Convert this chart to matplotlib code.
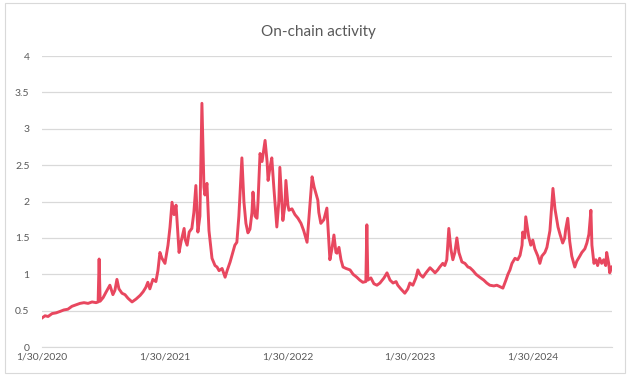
import numpy as np
import pandas as pd
import matplotlib
matplotlib.use("Agg")
import matplotlib.pyplot as plt
from matplotlib.patches import Rectangle

plt.rcParams['font.family'] = ['Lato', 'DejaVu Sans']

# values: days since 1/30/2020 and the activity level
start = "2020-01-30"
days = [0, 9, 18, 30, 42, 54, 65, 77, 89, 101,
        113, 125, 137, 149, 161, 167, 170, 173, 182, 190,
        202, 211, 217, 223, 229, 238, 247, 256, 268, 280,
        292, 301, 309, 315, 321, 330, 339, 345, 351, 357,
        366, 375, 381, 387, 393, 399, 408, 414, 423, 426,
        432, 438, 446, 452, 458, 464, 470, 476, 482, 485,
        491, 497, 506, 515, 521, 527, 536, 545, 551, 560,
        568, 574, 580, 586, 595, 601, 607, 613, 619, 625,
        628, 634, 640, 643, 649, 655, 664, 670, 673, 678,
        684, 690, 699, 705, 708, 714, 717, 723, 726, 732,
        735, 744, 753, 762, 771, 779, 789, 795, 804, 810,
        821, 824, 830, 839, 848, 857, 863, 869, 875, 878,
        884, 890, 896, 905, 917, 926, 937, 946, 955, 964,
        967, 970, 979, 988, 997, 1006, 1018, 1027, 1036, 1045,
        1054, 1059, 1068, 1080, 1089, 1095, 1104, 1113, 1119, 1125,
        1134, 1143, 1155, 1164, 1170, 1178, 1184, 1193, 1199, 1205,
        1211, 1217, 1223, 1229, 1235, 1241, 1250, 1259, 1268, 1274,
        1283, 1292, 1303, 1315, 1324, 1333, 1345, 1354, 1363, 1372,
        1381, 1387, 1393, 1399, 1408, 1416, 1423, 1429, 1431, 1437,
        1440, 1446, 1449, 1455, 1461, 1467, 1476, 1482, 1488, 1497,
        1503, 1512, 1521, 1527, 1536, 1542, 1550, 1556, 1559, 1565,
        1571, 1577, 1586, 1592, 1601, 1607, 1616, 1622, 1628, 1634,
        1637, 1643, 1649, 1654, 1660, 1666, 1672, 1678, 1681, 1687,
        1690, 1696]

activity = [0.40, 0.43, 0.42, 0.46, 0.47, 0.49, 0.51, 0.52, 0.56, 0.58,
            0.60, 0.61, 0.60, 0.62, 0.61, 0.62, 1.21, 0.63, 0.68, 0.75,
            0.85, 0.72, 0.78, 0.93, 0.80, 0.74, 0.72, 0.67, 0.62, 0.66,
            0.71, 0.76, 0.82, 0.89, 0.80, 0.93, 0.90, 1.05, 1.30, 1.22,
            1.15, 1.40, 1.65, 1.99, 1.82, 1.95, 1.30, 1.45, 1.63, 1.48,
            1.40, 1.58, 1.63, 1.85, 2.22, 1.58, 1.80, 3.35, 2.20, 2.09,
            2.25, 1.60, 1.22, 1.12, 1.10, 1.05, 1.08, 0.96, 1.05, 1.17,
            1.30, 1.40, 1.44, 1.80, 2.60, 2.00, 1.70, 1.57, 1.62, 1.85,
            2.13, 1.80, 1.77, 2.00, 2.66, 2.55, 2.84, 2.55, 2.29, 2.45,
            2.60, 2.20, 1.65, 2.00, 2.47, 2.00, 1.74, 1.95, 2.29, 1.95,
            1.88, 1.90, 1.82, 1.77, 1.70, 1.60, 1.44, 1.80, 2.34, 2.20,
            2.02, 1.85, 1.70, 1.75, 1.91, 1.20, 1.35, 1.54, 1.30, 1.29,
            1.37, 1.20, 1.10, 1.08, 1.06, 1.00, 0.96, 0.92, 0.89, 0.90,
            1.68, 0.92, 0.95, 0.87, 0.85, 0.88, 0.95, 1.02, 0.92, 0.88,
            0.90, 0.85, 0.80, 0.74, 0.80, 0.88, 0.85, 0.95, 1.06, 1.00,
            0.96, 1.02, 1.09, 1.05, 1.02, 1.06, 1.10, 1.15, 1.12, 1.20,
            1.63, 1.35, 1.20, 1.30, 1.50, 1.30, 1.17, 1.15, 1.10, 1.09,
            1.05, 1.00, 0.96, 0.92, 0.88, 0.85, 0.84, 0.85, 0.83, 0.81,
            0.92, 1.00, 1.06, 1.15, 1.22, 1.20, 1.26, 1.40, 1.58, 1.50,
            1.79, 1.60, 1.51, 1.40, 1.47, 1.35, 1.25, 1.15, 1.25, 1.30,
            1.37, 1.60, 2.18, 1.90, 1.65, 1.55, 1.43, 1.50, 1.62, 1.77,
            1.45, 1.25, 1.10, 1.18, 1.25, 1.30, 1.35, 1.43, 1.55, 1.88,
            1.40, 1.15, 1.20, 1.12, 1.22, 1.15, 1.20, 1.12, 1.30, 1.15,
            1.02, 1.10]

tick_dates = ["2020-01-30", "2021-01-30", "2022-01-30", "2023-01-30", "2024-01-30"]
tick_labels = ["1/30/2020", "1/30/2021", "1/30/2022", "1/30/2023", "1/30/2024"]
y_labels = ['0', '0.5', '1', '1.5', '2', '2.5', '3', '3.5', '4']

x = pd.Timestamp(start) + pd.to_timedelta(days, unit='D')
text_col = '#595959'

fig = plt.figure(figsize=(6.31, 3.76), dpi=100)
ax = fig.add_axes([0.0666, 0.077, 0.9034, 0.774])

# chart area border
fig.patches.append(Rectangle((0.008, 0.008), 0.983, 0.984, transform=fig.transFigure,
                             fill=False, edgecolor='#D9D9D9', linewidth=0.8))

ax.plot(x, activity, color='#E8475F', linewidth=2.1, solid_joinstyle='round')

ax.set_ylim(0, 4)
ax.set_yticks(np.arange(0, 4.01, 0.5))
ax.set_yticklabels(y_labels)
ax.set_xlim(pd.Timestamp(start), pd.Timestamp("2024-09-22"))
ax.set_xticks(pd.to_datetime(tick_dates))
ax.set_xticklabels(tick_labels)

ax.grid(axis='y', color='#D9D9D9', linewidth=0.9)
ax.set_axisbelow(True)
for s in ['top', 'right', 'left']:
    ax.spines[s].set_visible(False)
ax.spines['bottom'].set_color('#D9D9D9')
ax.tick_params(axis='both', length=0, labelsize=7.5, labelcolor=text_col)
ax.tick_params(axis='y', pad=9)
ax.tick_params(axis='x', pad=4)

fig.text(0.505, 0.916, 'On-chain activity', ha='center', va='center',
         fontsize=11, color=text_col)

plt.savefig('out.png', dpi=100)
